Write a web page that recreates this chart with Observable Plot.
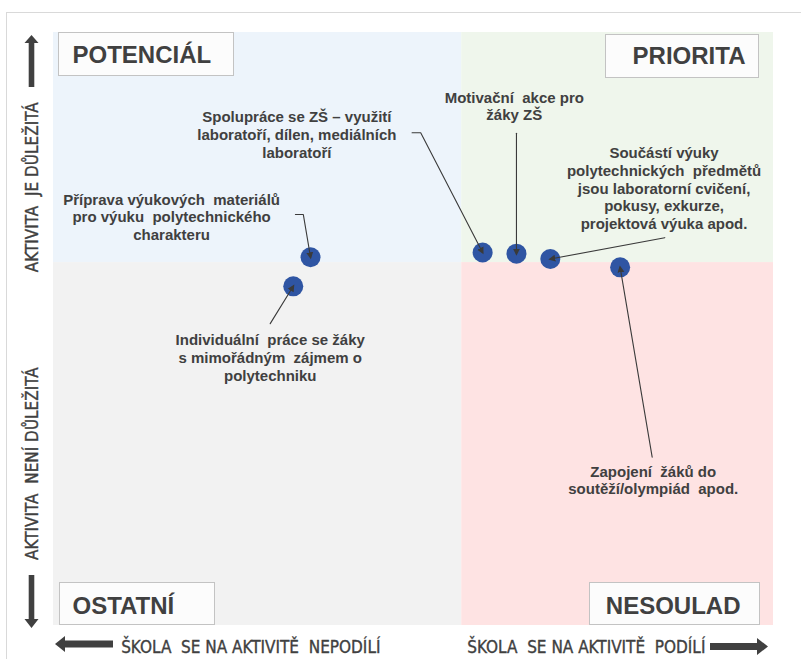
<!DOCTYPE html>
<html><head><meta charset="utf-8">
<script src="https://cdn.jsdelivr.net/npm/d3@7"></script>
<script src="https://cdn.jsdelivr.net/npm/@observablehq/plot@0.6"></script>
<style>
body{margin:0;background:#fff;}
#wrap{position:relative;width:801px;height:659px;overflow:hidden;background:#fff;}
#chart{position:absolute;left:0;top:0;}
#border{position:absolute;left:6px;top:12px;width:840px;height:720px;border:1px solid #d9d9d9;pointer-events:none;}
</style></head><body>
<div id="wrap"><div id="chart"></div><div id="border"></div></div>
<script>
// ---- data ----
const activities = [
  "Příprava výukových  materiálů\npro výuku  polytechnického\ncharakteru",
  "Individuální  práce se žáky\ns mimořádným  zájmem o\npolytechniku",
  "Spolupráce se ZŠ – využití\nlaboratoří, dílen, mediálních\nlaboratoří",
  "Motivační  akce pro\nžáky ZŠ",
  "Součástí výuky\npolytechnických  předmětů\njsou laboratorní cvičení,\npokusy, exkurze,\nprojektová výuka apod.",
  "Zapojení  žáků do\nsoutěží/olympiád  apod."
];
// x: škola se na aktivitě podílí (0–100), y: důležitost aktivity (0–100)
const participation = [35.7, 33.3, 59.6, 64.3, 69.0, 78.7];
const importance    = [62.1, 57.2, 62.9, 62.7, 61.8, 60.4];

// annotation layout (data units)
const labelX = [16.4, 30.1, 33.8, 64.0, 84.8, 83.3];
const labelY = [73.1, 49.4, 87.0, 90.3, 80.9, 27.2];
const leaderStartX = [33.6, 30.1, 49.8, 64.3, 84.9, 83.15];
const leaderStartY = [69.3, 50.9, 83.1, 83.0, 65.4, 28.4];
const leaderElbowX = [34.7, null, 51.0, null, null, null];
const leaderElbowY = [69.3, null, 83.1, null, null, null];

const quadrantNames = ["POTENCIÁL", "PRIORITA", "OSTATNÍ", "NESOULAD"];
const quadrantColors = ["#edf4fb", "#eff6ec", "#f2f2f2", "#fee3e3"];
const xDomain = [0, 100], yDomain = [0, 100];
const xSplit = 56.7, ySplit = 61.2;

const yAxisLabels = ["AKTIVITA  JE DŮLEŽITÁ", "AKTIVITA  NENÍ DŮLEŽITÁ"];
const yAxisLabelPos = [73.9, 27.3];
const xAxisLabels = ["ŠKOLA  SE NA AKTIVITĚ  NEPODÍLÍ", "ŠKOLA  SE NA AKTIVITĚ  PODÍLÍ"];
const xAxisLabelPos = [27.4, 74.0];

// ---- tables ----
const quads = [
  {q: quadrantNames[0], x1: xDomain[0], x2: xSplit, y1: ySplit, y2: yDomain[1]},
  {q: quadrantNames[1], x1: xSplit, x2: xDomain[1], y1: ySplit, y2: yDomain[1]},
  {q: quadrantNames[2], x1: xDomain[0], x2: xSplit, y1: yDomain[0], y2: ySplit},
  {q: quadrantNames[3], x1: xSplit, x2: xDomain[1], y1: yDomain[0], y2: ySplit}
];
const points = activities.map((a, i) => ({a, x: participation[i], y: importance[i], lx: labelX[i], ly: labelY[i]}));
const leaders = [];
activities.forEach((a, i) => {
  leaders.push({id: i, x: leaderStartX[i], y: leaderStartY[i]});
  if (leaderElbowX[i] != null) leaders.push({id: i, x: leaderElbowX[i], y: leaderElbowY[i]});
  leaders.push({id: i, x: participation[i], y: importance[i]});
});

const ink = "#404040";
const narrow = '"Liberation Sans Narrow","Arial Narrow","DejaVu Sans Condensed",sans-serif';
const sans = '"Liberation Sans",Arial,sans-serif';

// decorative boxes behind quadrant names (relative to the frame)
function quadBoxes(index, scales, values, d) {
  const L = d.marginLeft, T = d.marginTop, R = d.width - d.marginRight, B = d.height - d.marginBottom;
  const boxes = [[L + 5, T, 175, 43], [R - 168, T + 2, 153, 43], [L + 6, B - 43, 155, 42], [R - 184, B - 43, 170, 42]];
  const g = d3.create("svg:g");
  g.selectAll("rect").data(boxes).join("rect")
    .attr("x", b => b[0] + 0.5).attr("y", b => b[1] + 0.5).attr("width", b => b[2]).attr("height", b => b[3])
    .attr("fill", "#fcfcfc").attr("stroke", "#c3c3c3").attr("stroke-width", 1);
  return g.node();
}
// thick direction arrows in the margins
function axisArrows(index, scales, values, d) {
  const L = d.marginLeft, T = d.marginTop, R = d.width - d.marginRight, B = d.height - d.marginBottom;
  const cx = L - 21.5;
  const vUp = (x, tip, end) => `M${x-2.8},${end}V${tip+8}H${x-7}L${x},${tip}L${x+7},${tip+8}H${x+2.8}V${end}Z`;
  const vDown = (x, tip, end) => `M${x-2.8},${end}V${tip-9}H${x-7}L${x},${tip}L${x+7},${tip-9}H${x+2.8}V${end}Z`;
  const hLeft = (y, tip, end) => `M${end},${y-3.5}H${tip+10}V${y-8}L${tip},${y}L${tip+10},${y+8}V${y+3.5}H${end}Z`;
  const hRight = (y, tip, end) => `M${end},${y-3.5}H${tip-11}V${y-8.5}L${tip},${y}L${tip-11},${y+8.5}V${y+3.5}H${end}Z`;
  const paths = [vUp(cx, T + 3, T + 55), vDown(cx, B + 3, B - 50), hLeft(B + 19, L + 2, L + 60), hRight(B + 21.5, R - 5, R - 63)];
  const g = d3.create("svg:g");
  g.selectAll("path").data(paths).join("path").attr("d", p => p).attr("fill", ink);
  return g.node();
}

const chart = Plot.plot({
  width: 801, height: 659,
  marginLeft: 53, marginRight: 28, marginTop: 32, marginBottom: 34,
  x: {domain: xDomain, axis: null},
  y: {domain: yDomain, axis: null},
  color: {type: "ordinal", domain: quadrantNames, range: quadrantColors},
  style: {fontFamily: sans, background: "transparent", overflow: "visible"},
  marks: [
    Plot.rect(quads, {x1: "x1", x2: "x2", y1: "y1", y2: "y2", fill: "q"}),
    quadBoxes,
    Plot.text([quadrantNames[0]], {frameAnchor: "top-left", textAnchor: "start", lineAnchor: "top", dx: 19, dy: 13, fontSize: 24, fontWeight: "bold", fill: ink}),
    Plot.text([quadrantNames[1]], {frameAnchor: "top-right", textAnchor: "end", lineAnchor: "top", dx: -28, dy: 14.5, fontSize: 24, fontWeight: "bold", fill: ink}),
    Plot.text([quadrantNames[2]], {frameAnchor: "bottom-left", textAnchor: "start", lineAnchor: "top", dx: 19, dy: -28.5, fontSize: 24, fontWeight: "bold", fill: ink}),
    Plot.text([quadrantNames[3]], {frameAnchor: "bottom-right", textAnchor: "end", lineAnchor: "top", dx: -33, dy: -29, fontSize: 24, fontWeight: "bold", fill: ink}),
    Plot.dot(points, {x: "x", y: "y", r: 10, fill: "#2f55a3"}),
    Plot.line(leaders, {x: "x", y: "y", z: "id", stroke: "#3a3a3a", strokeWidth: 1.1, markerEnd: "arrow"}),
    Plot.text(points, {x: "lx", y: "ly", text: "a", textAnchor: "middle", lineAnchor: "top", lineHeight: 1.18, fontSize: 15, fontWeight: "bold", fill: ink}),
    Plot.text(yAxisLabels, {y: (d, i) => yAxisLabelPos[i], text: d => d, frameAnchor: "left", dx: -21, rotate: -90, textAnchor: "middle", lineAnchor: "middle", fontSize: 17, fontFamily: narrow, fill: ink, stroke: ink, strokeWidth: 0.35}),
    Plot.text(xAxisLabels, {x: (d, i) => xAxisLabelPos[i], text: d => d, frameAnchor: "bottom", dy: 22, textAnchor: "middle", lineAnchor: "middle", fontSize: 17, fontFamily: narrow, fill: ink, stroke: ink, strokeWidth: 0.35}),
    axisArrows
  ]
});
// filled arrowheads for the leader lines
chart.querySelectorAll("marker").forEach(m => {
  m.setAttribute("markerWidth", 9);
  m.setAttribute("markerHeight", 9);
  m.querySelectorAll("path").forEach(p => {
    p.setAttribute("d", "M-5,-3.5L2,0L-5,3.5Z");
    p.setAttribute("fill", "#3a3a3a");
    p.setAttribute("stroke", "none");
  });
});
document.getElementById("chart").appendChild(chart);
</script>
</body></html>
